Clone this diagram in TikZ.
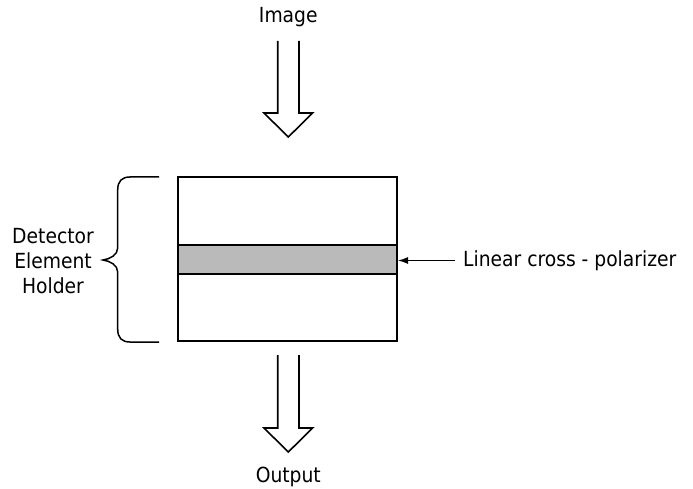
\documentclass[tikz,border=0pt]{standalone}
\usepackage{fontspec}
\setmainfont{DejaVu Sans Condensed}
\usetikzlibrary{arrows.meta}
\begin{document}
\begin{tikzpicture}[x=1pt,y=-1pt,
  txt/.style={font=\fontsize{20.8}{25}\selectfont, inner sep=0pt, text=black},
  hollow/.style={draw=black, line width=1.6pt, line join=miter},
  frame/.style={draw=black, line width=2pt, inner sep=0pt},
  brace/.style={draw=black, line width=1.5pt},
  pointer/.style={draw=black, line width=1.3pt, -{Latex[length=10pt,width=7pt]}}]
\useasboundingbox (0,0) rectangle (693,489);
% texts
\node[txt, anchor=base] (image) at (288.3,23) {Image};
\node[txt, anchor=base] (output) at (288.3,482) {Output};
\node[txt, align=center] (deh) at (53,261.5) {Detector\\Element\\Holder};
\node[txt, anchor=base west] (lcp) at (463,266) {Linear cross - polarizer};
% holder and band
\node[frame, fill=black!27, minimum width=219pt, minimum height=29pt] (band) at (287.5,259.5) {};
\node[frame, minimum width=219pt, minimum height=164pt] (holder) at (287.5,259) {};
% hollow arrows
\draw[hollow] (277.7,41) -- (277.7,113) -- (264,113) -- (288.3,137) -- (312.6,113) -- (299,113) -- (299,41);
\draw[hollow] (277.7,355) -- (277.7,428) -- (264,428) -- (288.3,452) -- (312.6,428) -- (299,428) -- (299,355);
% brace
\draw[brace] (159,177) -- (130,177) .. controls (122,177) and (117.7,181) .. (117.7,190)
  -- (117.7,248) .. controls (117.7,255) and (110,259) .. (103,260)
  .. controls (110,261) and (117.7,265) .. (117.7,272)
  -- (117.7,329) .. controls (117.7,338) and (122,342) .. (130,342) -- (159,342);
% pointer
\coordinate (tail) at (455,260.5);
\draw[pointer] (tail) -- (band.east |- tail);
\end{tikzpicture}
\end{document}
